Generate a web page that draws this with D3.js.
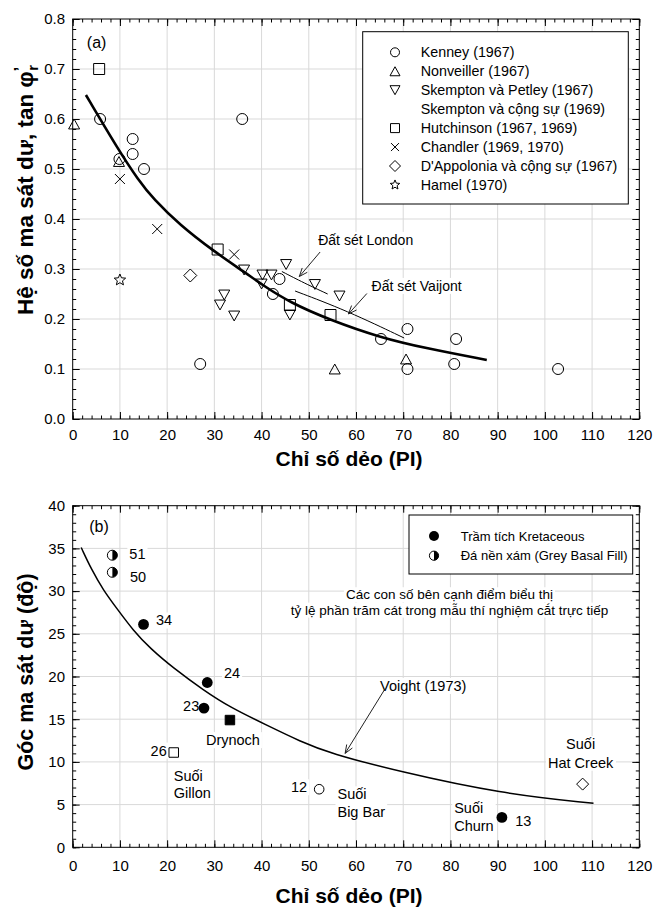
<!DOCTYPE html>
<html><head><meta charset="utf-8">
<script src="https://cdn.jsdelivr.net/npm/d3@7/dist/d3.min.js"></script>
<style>
body{margin:0;background:#fff;}
svg{display:block;}
text{font-family:"Liberation Sans",Arial,Helvetica,sans-serif;fill:#000;}
</style></head><body>
<svg id="chart" width="661" height="916"></svg>
<script>
// ---------------- DATA ----------------
const xTickValues = [0,10,20,30,40,50,60,70,80,90,100,110,120];
const xMinorValues = d3.range(0,121,2);
const yTickValuesA = [0,0.1,0.2,0.3,0.4,0.5,0.6,0.7,0.8];
const yMinorValuesA = d3.range(0,41).map(i=>+(i*0.02).toFixed(2));
const yTickValuesB = [0,5,10,15,20,25,30,35,40];
const yMinorValuesB = d3.range(0,41);

// panel (a): [PI, tan phi_r]
const kenney = [[5.8,0.60],[9.9,0.52],[12.7,0.56],[12.7,0.53],[15.1,0.50],[35.9,0.60],[27.0,0.11],[43.8,0.28],[42.4,0.25],[65.3,0.16],[70.9,0.18],[70.9,0.10],[81.2,0.16],[80.8,0.11],[102.8,0.10]];
const nonveiller = [[0.3,0.59],[9.8,0.515],[55.5,0.10],[70.6,0.12]];
const skemptonPetley = [[36.3,0.298],[40.2,0.288],[42.1,0.288],[40.0,0.27],[45.2,0.309],[51.3,0.269],[56.5,0.246],[32.1,0.248],[31.2,0.228],[34.2,0.206],[46.0,0.208]];
const hutchinson = [[5.6,0.70],[30.7,0.339],[46.0,0.228],[54.6,0.208]];
const chandler = [[10.0,0.48],[17.9,0.38],[34.2,0.329]];
const dappolonia = [[24.9,0.287]];
const hamel = [[10.0,0.278]];
const trendA = [[2.8,0.648],[9.7,0.538],[13.9,0.478],[17.1,0.440],[22.7,0.388],[29.8,0.336],[36.8,0.291],[40.2,0.268],[46,0.233],[54.5,0.198],[65.1,0.163],[75,0.141],[87.7,0.118]];
const londonClay = [[44.3,0.295],[49.0,0.272],[54.0,0.250]];
const vaijontClay = [[47.1,0.256],[58.0,0.217],[70.2,0.162]];
const legendNamesA = ["Kenney (1967)","Nonveiller (1967)","Skempton và Petley (1967)","Skempton và cộng sự (1969)","Hutchinson (1967, 1969)","Chandler (1969, 1970)","D'Appolonia và cộng sự (1967)","Hamel (1970)"];
const legendSymbolsA = ["circle","triUp","triDown",null,"square","times","diamond","star"];

// panel (b): [PI, phi_r (deg)]
const kretaceousPI = [15.0, 28.5, 27.8, 90.9];
const kretaceousPhi = [26.1, 19.3, 16.3, 3.5];
const kretaceousSand = ["34","24","23","13"];
const greyBasalPI = [8.4, 8.4];
const greyBasalPhi = [34.2, 32.2];
const greyBasalSand = ["51","50"];
const drynoch = [33.3, 14.9];
const gillon = [21.4, 11.1], gillonSand = "26";
const bigBar = [52.2, 6.8], bigBarSand = "12";
const hatCreek = [108.0, 7.4];
const voight = [[1.8,35.1],[4,32.5],[6.5,30.1],[9.3,28.0],[12.8,25.4],[16.4,23.3],[21.3,21.0],[27.7,18.4],[33.3,16.4],[41.1,14.3],[48.2,12.4],[54.5,11.0],[69.3,8.85],[90.6,6.3],[110.3,5.15]];
const legendNamesB = ["Trầm tích Kretaceous","Đá nền xám (Grey Basal Fill)"];

// ---------------- HELPERS ----------------
const svg = d3.select("#chart");
const xA = d3.scaleLinear().domain([0,120]).range([72.7,639.3]);
const yA = d3.scaleLinear().domain([0,0.8]).range([419,19]);
const xB = d3.scaleLinear().domain([0,120]).range([72.7,639.3]);
const yB = d3.scaleLinear().domain([0,40]).range([847.3,505.7]);

function starPath(R){const r=R*0.45;let p="";for(let i=0;i<10;i++){const a=-Math.PI/2+i*Math.PI/5,rr=i%2?r:R;p+=(i?"L":"M")+(rr*Math.cos(a)).toFixed(2)+","+(rr*Math.sin(a)).toFixed(2);}return p+"Z";}
function symPath(type,s){
  switch(type){
    case "circle":{const r=s/2;return `M${r},0A${r},${r} 0 1,1 ${-r},0A${r},${r} 0 1,1 ${r},0Z`;}
    case "triUp":{const h=s*0.9;return `M0,${-h/2}L${s/2},${h/2}L${-s/2},${h/2}Z`;}
    case "triDown":{const h=s*0.9;return `M0,${h/2}L${s/2},${-h/2}L${-s/2},${-h/2}Z`;}
    case "square":return `M${-s/2},${-s/2}H${s/2}V${s/2}H${-s/2}Z`;
    case "diamond":return `M0,${-s/2}L${s/2},0L0,${s/2}L${-s/2},0Z`;
    case "times":{const a=s/2;return `M${-a},${-a}L${a},${a}M${-a},${a}L${a},${-a}`;}
    case "star":return starPath(s/2);
  }
}
function halfCircle(g,cx,cy,r){
  g.append("circle").attr("cx",cx).attr("cy",cy).attr("r",r).attr("fill","#fff").attr("stroke","#000").attr("stroke-width",1);
  g.append("path").attr("transform",`translate(${cx},${cy})`).attr("d",`M0,${-r}A${r},${r} 0 0,1 0,${r}Z`).attr("fill","#000");
}
function label(g,x,y,lines,opt={}){
  const size=opt.size||14, anchor=opt.anchor||"start", lh=opt.lh||18;
  const t=g.append("text").attr("font-size",size).attr("text-anchor",anchor);
  lines.forEach((s,i)=>t.append("tspan").attr("x",x).attr("y",y+i*lh).attr("dy","0.35em").text(s));
  if(opt.bg!==false){const b=t.node().getBBox();
    g.insert("rect",()=>t.node()).attr("x",b.x-2).attr("y",b.y).attr("width",b.width+4).attr("height",b.height).attr("fill","#fff");}
  return t;
}
function arrow(g,x1,y1,x2,y2){
  g.append("line").attr("x1",x1).attr("y1",y1).attr("x2",x2).attr("y2",y2).attr("stroke","#222").attr("stroke-width",1);
  const a=Math.atan2(y2-y1,x2-x1),L=9,sp=0.38;
  const p=`M${x2-L*Math.cos(a-sp)},${y2-L*Math.sin(a-sp)}L${x2},${y2}L${x2-L*Math.cos(a+sp)},${y2-L*Math.sin(a+sp)}`;
  g.append("path").attr("d",p).attr("fill","none").attr("stroke","#222").attr("stroke-width",1);
}
function drawGrid(g,x,y,xMaj,yMaj){
  const [yb,yt]=y.range(),[x0,x1]=x.range();
  g.selectAll(null).data(xMaj.filter(v=>v>x.domain()[0]&&v<x.domain()[1])).join("line")
    .attr("x1",d=>x(d)).attr("x2",d=>x(d)).attr("y1",yt).attr("y2",yb).attr("stroke","#d9d9d9").attr("stroke-width",1);
  g.selectAll(null).data(yMaj.filter(v=>v>y.domain()[0]&&v<y.domain()[1])).join("line")
    .attr("y1",d=>y(d)).attr("y2",d=>y(d)).attr("x1",x0).attr("x2",x1).attr("stroke","#d9d9d9").attr("stroke-width",1);
}
function drawAxes(g,x,y,xMaj,xMin,yMaj,yMin,yFmt,xPad){
  const [yb,yt]=y.range(),[x0,x1]=x.range();
  const st=s=>{s.select(".domain").remove();s.selectAll(".tick line").attr("stroke","#000");s.attr("font-size",15);};
  g.append("g").attr("transform",`translate(0,${yb})`).call(d3.axisBottom(x).tickValues(xMin).tickSize(-3.5).tickFormat("")).call(st);
  g.append("g").attr("transform",`translate(0,${yb})`).call(d3.axisBottom(x).tickValues(xMaj).tickSize(-7).tickPadding(xPad).tickFormat(d3.format("d"))).call(st);
  g.append("g").attr("transform",`translate(0,${yt})`).call(d3.axisTop(x).tickValues(xMin).tickSize(-3.5).tickFormat("")).call(st);
  g.append("g").attr("transform",`translate(0,${yt})`).call(d3.axisTop(x).tickValues(xMaj).tickSize(-7).tickFormat("")).call(st);
  g.append("g").attr("transform",`translate(${x0},0)`).call(d3.axisLeft(y).tickValues(yMin).tickSize(-3.5).tickFormat("")).call(st);
  g.append("g").attr("transform",`translate(${x0},0)`).call(d3.axisLeft(y).tickValues(yMaj).tickSize(-7).tickPadding(7.7).tickFormat(yFmt)).call(st);
  g.append("g").attr("transform",`translate(${x1},0)`).call(d3.axisRight(y).tickValues(yMin).tickSize(-3.5).tickFormat("")).call(st);
  g.append("g").attr("transform",`translate(${x1},0)`).call(d3.axisRight(y).tickValues(yMaj).tickSize(-7).tickFormat("")).call(st);
  g.append("rect").attr("x",x0).attr("y",yt).attr("width",x1-x0).attr("height",yb-yt).attr("fill","none").attr("stroke","#000").attr("stroke-width",1);
}
function markers(g,data,x,y,type,s,opt={}){
  g.selectAll(null).data(data).join("path")
    .attr("transform",d=>`translate(${x(d[0])},${y(d[1])})`)
    .attr("d",symPath(type,s)).attr("fill",opt.fill||"none").attr("stroke","#000").attr("stroke-width",opt.sw||1);
}

// ---------------- PANEL (a) ----------------
const gA=svg.append("g");
const gridA=gA.append("g"),annA=gA.append("g"),dataA=gA.append("g"),axA=gA.append("g"),legA=gA.append("g");
drawGrid(gridA,xA,yA,xTickValues,yTickValuesA);

label(annA,xA(52.0),yA(0.358),["Đất sét London"],{size:14});
label(annA,xA(63.3),yA(0.266),["Đất sét Vaijont"],{size:14});
arrow(annA,xA(52.4),yA(0.334),xA(48.0),yA(0.285));
arrow(annA,xA(62.3),yA(0.251),xA(58.4),yA(0.210));
label(annA,xA(3.0),yA(0.753),["(a)"],{size:16,bg:false});

const lineA=d3.line().x(d=>xA(d[0])).y(d=>yA(d[1])).curve(d3.curveBasis);
dataA.append("path").datum(trendA).attr("d",lineA).attr("fill","none").attr("stroke","#000").attr("stroke-width",2.6);
dataA.append("path").datum(londonClay).attr("d",lineA).attr("fill","none").attr("stroke","#000").attr("stroke-width",1);
dataA.append("path").datum(vaijontClay).attr("d",lineA).attr("fill","none").attr("stroke","#000").attr("stroke-width",1);

markers(dataA,kenney,xA,yA,"circle",11);
markers(dataA,nonveiller,xA,yA,"triUp",11);
markers(dataA,skemptonPetley,xA,yA,"triDown",11);
markers(dataA,hutchinson,xA,yA,"square",11);
markers(dataA,chandler,xA,yA,"times",10);
markers(dataA,dappolonia,xA,yA,"diamond",13);
markers(dataA,hamel,xA,yA,"star",12);

drawAxes(axA,xA,yA,xTickValues,xMinorValues,yTickValuesA,yMinorValuesA,d3.format(".1f"),10.7);

// legend (a)
legA.append("rect").attr("x",362.7).attr("y",31.7).attr("width",265.6).attr("height",172.3).attr("fill","#fff").attr("stroke","#000").attr("stroke-width",1);
const legSizes={circle:9,triUp:10,triDown:10,square:9,times:8,diamond:11,star:10};
legendNamesA.forEach((n,i)=>{
  const yy=52.3+i*18.95;
  const sy=legendSymbolsA[i];
  if(sy) legA.append("path").attr("transform",`translate(395,${yy})`).attr("d",symPath(sy,legSizes[sy])).attr("fill","none").attr("stroke","#000");
  legA.append("text").attr("x",420.7).attr("y",yy).attr("dy","0.35em").attr("font-size",14.3).text(n);
});

// axis titles (a)
svg.append("text").attr("x",349).attr("y",459).attr("dy","0.35em").attr("text-anchor","middle").attr("font-size",21).attr("font-weight","bold").text("Chỉ số dẻo (PI)");
const tY=svg.append("text").attr("transform","translate(25,190) rotate(-90)").attr("dy","0.35em").attr("text-anchor","middle").attr("font-size",22.5).attr("font-weight","bold");
tY.append("tspan").text("Hệ số ma sát dư, tan φ");
tY.append("tspan").attr("dy",-7).attr("font-size",16).text("’");
tY.append("tspan").attr("dx",-4).attr("dy",12).attr("font-size",15).text("r");

// ---------------- PANEL (b) ----------------
const gB=svg.append("g");
const gridB=gB.append("g"),annB=gB.append("g"),dataB=gB.append("g"),axB=gB.append("g"),legB=gB.append("g");
drawGrid(gridB,xB,yB,xTickValues,yTickValuesB);

label(annB,xB(3.5),yB(37.6),["(b)"],{size:16,bg:false});
label(annB,xB(79.8),yB(29.6),["Các con số bên cạnh điểm biểu thị"],{size:13.5,anchor:"middle"});
label(annB,xB(79.8),yB(27.8),["tỷ lệ phần trăm cát trong mẫu thí nghiệm cắt trực tiếp"],{size:13.5,anchor:"middle"});
label(annB,xB(65.1),yB(18.9),["Voight (1973)"],{size:14.5});
arrow(annB,xB(66.2),yB(18.6),xB(57.7),yB(11.0));

const sandOff={"51":[17,-1,"start"],"50":[17.7,5,"start"],"34":[12.4,-4,"start"],"24":[16.7,-10,"start"],"23":[-4.7,-2,"end"],"13":[13.3,4,"start"],"26":[-7,-2,"end"],"12":[-12,-2,"end"]};
function sandLabel(px,py,s){const o=sandOff[s];label(annB,px+o[0],py+o[1],[s],{size:14.5,anchor:o[2]});}
greyBasalPI.forEach((v,i)=>sandLabel(xB(v),yB(greyBasalPhi[i]),greyBasalSand[i]));
kretaceousPI.forEach((v,i)=>sandLabel(xB(v),yB(kretaceousPhi[i]),kretaceousSand[i]));
sandLabel(xB(gillon[0]),yB(gillon[1]),gillonSand);
sandLabel(xB(bigBar[0]),yB(bigBar[1]),bigBarSand);

label(annB,xB(drynoch[0])-24,yB(drynoch[1])+20,["Drynoch"],{size:14.5});
label(annB,xB(gillon[0]),yB(gillon[1])+23,["Suối","Gillon"],{size:14.5,lh:17});
label(annB,xB(bigBar[0])+18.3,yB(bigBar[1])+5,["Suối","Big Bar"],{size:14.5,lh:18});
label(annB,xB(kretaceousPI[3])-47.7,yB(kretaceousPhi[3])-9,["Suối","Churn"],{size:14.5,lh:18});
label(annB,xB(hatCreek[0])-2,yB(hatCreek[1])-40,["Suối","Hat Creek"],{size:14.5,lh:18.5,anchor:"middle"});

const lineB=d3.line().x(d=>xB(d[0])).y(d=>yB(d[1])).curve(d3.curveBasis);
dataB.append("path").datum(voight).attr("d",lineB).attr("fill","none").attr("stroke","#000").attr("stroke-width",1.5);

kretaceousPI.forEach((v,i)=>dataB.append("circle").attr("cx",xB(v)).attr("cy",yB(kretaceousPhi[i])).attr("r",5.4).attr("fill","#000"));
greyBasalPI.forEach((v,i)=>halfCircle(dataB,xB(v),yB(greyBasalPhi[i]),5));
markers(dataB,[drynoch],xB,yB,"square",9.5,{fill:"#000"});
markers(dataB,[gillon],xB,yB,"square",9.5,{fill:"#fff"});
markers(dataB,[bigBar],xB,yB,"circle",9.6,{fill:"#fff"});
markers(dataB,[hatCreek],xB,yB,"diamond",12,{fill:"#fff"});

drawAxes(axB,xB,yB,xTickValues,xMinorValues,yTickValuesB,yMinorValuesB,d3.format("d"),12.7);

// legend (b)
legB.append("rect").attr("x",409).attr("y",515).attr("width",223.7).attr("height",59).attr("fill","#fff").attr("stroke","#000").attr("stroke-width",1);
legB.append("circle").attr("cx",434).attr("cy",536).attr("r",5).attr("fill","#000");
halfCircle(legB,434,555.7,4.6);
legendNamesB.forEach((n,i)=>legB.append("text").attr("x",460.7).attr("y",536+i*19.7).attr("dy","0.35em").attr("font-size",13).text(n));

// axis titles (b)
svg.append("text").attr("x",349).attr("y",896).attr("dy","0.35em").attr("text-anchor","middle").attr("font-size",21).attr("font-weight","bold").text("Chỉ số dẻo (PI)");
svg.append("text").attr("transform","translate(25,672) rotate(-90)").attr("dy","0.35em").attr("text-anchor","middle").attr("font-size",21.5).attr("font-weight","bold").text("Góc ma sát dư (độ)");
</script>
</body></html>
